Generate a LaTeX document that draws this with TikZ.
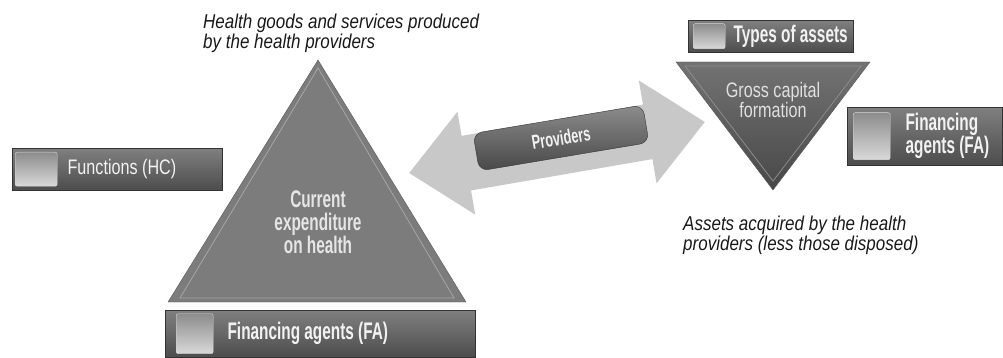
\documentclass[tikz,border=0pt]{standalone}
\usepackage{fontspec}
\setmainfont{Liberation Sans}
\newfontfamily\condfont[FakeStretch=0.77]{Liberation Sans}
\newfontfamily\boldfont[FakeStretch=0.64]{Liberation Sans}
\newfontfamily\notefont[FakeStretch=0.85]{Liberation Sans}
\usepackage{tikz}
\usetikzlibrary{positioning, calc, shapes.arrows}
\definecolor{trifill}{RGB}{124,124,124}
\definecolor{flowfill}{RGB}{200,200,200}
\definecolor{labeltext}{RGB}{242,242,242}

\begin{document}
\begin{tikzpicture}[x=1pt, y=-1pt,
    bar/.style={rectangle, draw=black!80, top color=black!50, bottom color=black!70, inner sep=0pt, anchor=north west},
    icon/.style={rectangle, rounded corners=2pt, draw=white!85!black, top color=black!45, bottom color=black!15, inner sep=0pt},
    barlabel/.style={inner sep=0pt, text=labeltext, font=\boldfont\bfseries\fontsize{24}{23}\selectfont, align=left},
    tri/.style={fill=trifill, draw=black!65, line join=miter},
    trihl/.style={draw=black!35, line width=0.8pt},
    note/.style={inner sep=0pt, align=left, text=black!90, font=\notefont\itshape\fontsize{20}{19.5}\selectfont},
    flow/.style={double arrow, fill=flowfill, draw=none, minimum height=300pt, minimum width=104pt, double arrow head extend=24.5pt, double arrow tip angle=84, inner xsep=0pt, inner ysep=27.5pt},
    button/.style={rectangle, rounded corners=9pt, draw=black!80, top color=black!45, bottom color=black!72, minimum width=172pt, minimum height=38pt, text=labeltext, font=\boldfont\bfseries\fontsize{20}{20}\selectfont}
]
\useasboundingbox (0,0) rectangle (1003,358);

% Flow between the two accounts
\node[flow, rotate=9.8] (flow) at (557,147.5) {};
\node[button, rotate=9.5] (prov) at (561,138) {Providers};

% Current expenditure
\coordinate (che-top) at (318,60);
\coordinate (che-left) at (168,302);
\coordinate (che-right) at (466,302);
\draw[tri] (che-top) -- (che-left) -- (che-right) -- cycle;
\draw[trihl] (318,68) -- (180,298) -- (454,298) -- cycle;
\node[barlabel, align=center, text=white!90!black] (che) at (318,222) {Current\\expenditure\\on health};
\node[note, anchor=north west] (hcnote) at (203,14) {Health goods and services produced\\by the health providers};

% Functions
\node[bar, minimum width=210pt, minimum height=42pt] (fhc) at (12,148) {};
\node[icon, minimum width=42pt, minimum height=34pt, right=3pt of fhc.west] (fhcicon) {};
\node[barlabel, font=\condfont\fontsize{21}{21}\selectfont, right=10pt of fhcicon] (fhclabel) {Functions (HC)};

% Financing agents, current
\node[bar, minimum width=310pt, minimum height=47pt] (fa) at (165,310) {};
\node[icon, minimum width=37pt, minimum height=40pt, right=11pt of fa.west] (faicon) {};
\node[barlabel, right=14pt of faicon] (falabel) {Financing agents (FA)};

% Gross capital formation
\coordinate (gcf-left) at (676,62);
\coordinate (gcf-right) at (870,62);
\coordinate (gcf-bottom) at (773,190);
\draw[tri, fill=none, top color=black!55, bottom color=black!72] (gcf-left) -- (gcf-right) -- (gcf-bottom) -- cycle;
\draw[trihl, draw=black!45] (685,66) -- (861,66) -- (773,181) -- cycle;
\node[inner sep=0pt, align=center, text=white!88!black, font=\condfont\fontsize{21}{18}\selectfont] (gcf) at (773,100) {Gross capital\\formation};
\node[note, anchor=north west] (gcfnote) at (683,216) {Assets acquired by the health\\providers (less those disposed)};

% Types of assets
\node[bar, minimum width=165pt, minimum height=32pt] (toa) at (688,20) {};
\node[icon, minimum width=32pt, minimum height=25pt, right=5pt of toa.west] (toaicon) {};
\node[barlabel, right=8pt of toaicon] (toalabel) {Types of assets};

% Financing agents, capital
\node[bar, minimum width=155pt, minimum height=58pt] (fak) at (847,107) {};
\node[icon, minimum width=37pt, minimum height=47pt, right=6pt of fak.west] (fakicon) {};
\node[barlabel, right=15pt of fakicon] (faklabel) {Financing\\agents (FA)};

\end{tikzpicture}
\end{document}
